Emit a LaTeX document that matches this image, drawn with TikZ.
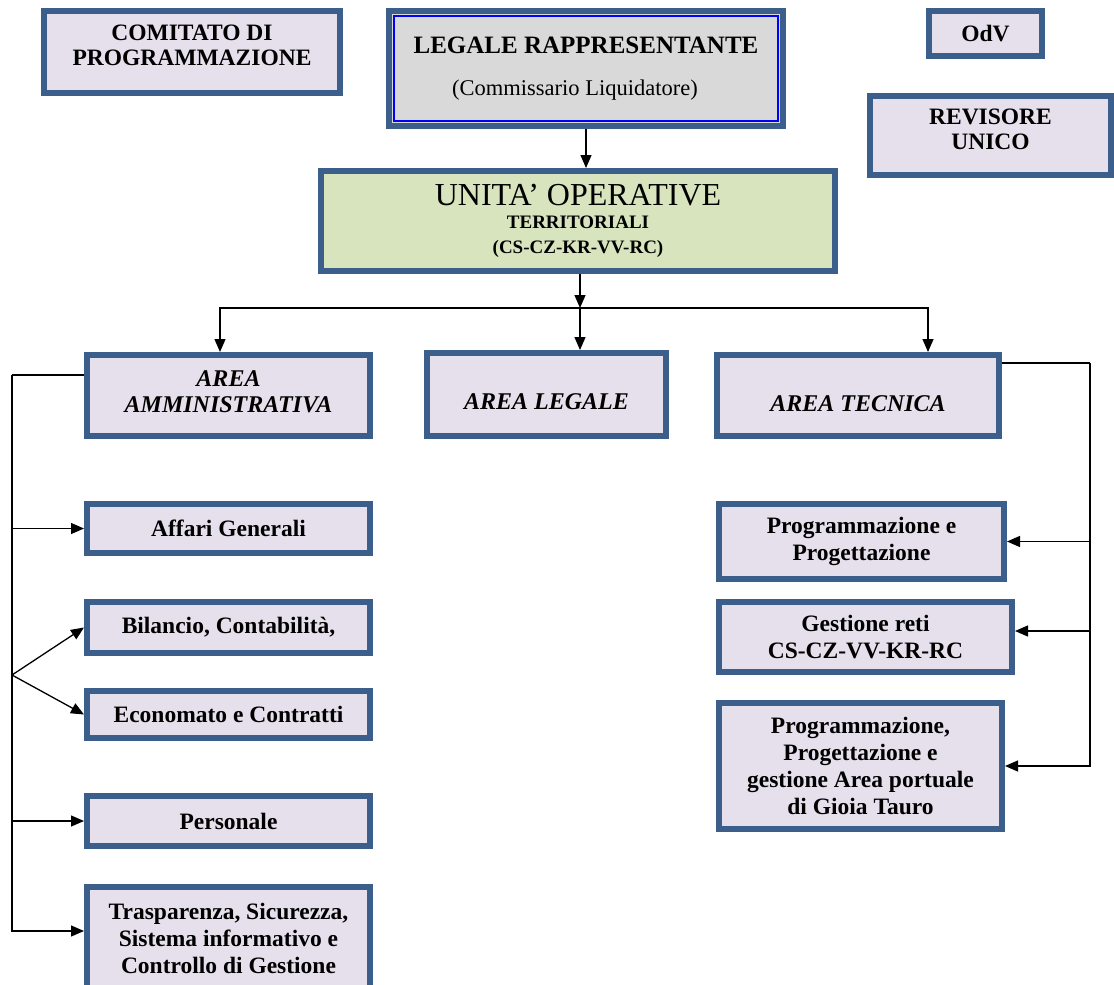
\documentclass[tikz,border=0pt]{standalone}
\usepackage{fontspec}
\setmainfont{Liberation Serif}
\usetikzlibrary{arrows.meta}
\definecolor{bordc}{RGB}{60,94,138}
\definecolor{lav}{RGB}{229,224,236}
\definecolor{legfill}{RGB}{217,217,217}
\definecolor{unifill}{RGB}{215,228,189}
\newcommand\bodyf{\fontsize{23.5}{27}\selectfont\bfseries}
\newcommand\areaf{\fontsize{24}{26}\selectfont\bfseries\itshape}
\begin{document}
\begin{tikzpicture}[x=1pt,y=-1pt,
  box/.style={draw=bordc, line width=6pt, fill=lav, outer sep=3pt, inner sep=0pt, align=center, font=\bodyf, text=black},
  sz/.style 2 args={minimum width=#1pt, minimum height=#2pt},
  arr/.style={draw=black, line width=1.3pt, -{Triangle[length=13pt,width=11pt]}},
  bus/.style={draw=black, line width=1.3pt}]
\useasboundingbox (0,0) rectangle (1114,985);
\begin{scope}
\clip (0,0) rectangle (1114,985);
% top row
\node[box, sz={296}{82}] (com) at (192,52) {COMITATO DI\\[-2pt]PROGRAMMAZIONE\\[-13pt]\mbox{}};
\node[box, fill=legfill, sz={394}{115}, font=\fontsize{25}{30}\selectfont\bfseries] (leg) at (586,68.5)
  {LEGALE RAPPRESENTANTE\\[12pt]{\mdseries\fontsize{22.5}{26}\selectfont (Commissario Liquidatore)\hspace*{22pt}}};
\draw[blue, line width=1.5pt] ([shift={(8pt,-8pt)}]leg.north west) rectangle ([shift={(-8pt,8pt)}]leg.south east);
\node[box, sz={113}{45}] (odv) at (985.5,33.5) {OdV};
\node[box, sz={241}{79}] (rev) at (990.5,135.5) {REVISORE\\[-2pt]UNICO\\[-15pt]\mbox{}};
\node[box, fill=unifill, sz={514}{100}] (uni) at (578,221)
  {{\mdseries\fontsize{32}{32}\selectfont UNITA’ OPERATIVE}\\[-4pt]
   {\fontsize{19}{22}\selectfont TERRITORIALI}\\[-2pt]
   {\fontsize{19}{22}\selectfont (CS-CZ-KR-VV-RC)}};
% areas
\node[box, sz={283}{81}, font=\areaf] (aam) at (228.5,395.5) {AREA\\AMMINISTRATIVA\\[-18pt]\mbox{}};
\node[box, sz={239}{83}, font=\areaf] (ale) at (546.5,394.5) {\raisebox{-15pt}[0pt][0pt]{AREA LEGALE}};
\node[box, sz={282}{81}, font=\areaf] (ate) at (858,395.5) {\raisebox{-16pt}[0pt][0pt]{AREA TECNICA}};
% left column
\node[box, sz={283}{49}] (aff) at (228.5,528.5) {Affari Generali};
\node[box, sz={283}{51}] (bil) at (228.5,627.5) {Bilancio, Contabilità,};
\node[box, sz={283}{47}] (eco) at (228.5,714.5) {Economato e Contratti};
\node[box, sz={283}{50}] (per) at (228.5,821) {Personale};
\node[box, sz={283}{106}] (tra) at (228.5,940) {Trasparenza, Sicurezza,\\Sistema informativo e\\Controllo di Gestione\\[-23pt]\mbox{}};
% right column
\node[box, sz={285}{75}] (pp) at (861.5,541.5) {Programmazione e\\Progettazione};
\node[box, sz={293}{70}] (gr) at (865.5,637) {Gestione reti\\CS-CZ-VV-KR-RC};
\node[box, sz={283}{126}] (pg) at (860.5,766) {Programmazione,\\Progettazione e\\gestione Area portuale\\di Gioia Tauro};
\end{scope}
% connectors
\draw[arr] (leg.south) -- (leg.south |- uni.north);
\coordinate (j) at (580,308);
\draw[arr] (j |- uni.south) -- (j);
\draw[arr] (j) -| ([xshift=-8.5pt]aam.north);
\draw[arr] (j) -| ([xshift=70pt]ate.north);
\draw[arr] (j) -- (j |- ale.north);
% left bus
\coordinate (lb) at (12,375);
\coordinate (fork) at (12,675);
\draw[bus] (lb -| aam.west) -- (lb);
\draw[arr] (lb) |- ([yshift=9pt]tra.west);
\draw[arr] (lb |- aff.west) -- (aff.west);
\draw[arr] (fork) -- (bil.west);
\draw[arr] (fork) -- (eco.west);
\draw[arr] (lb |- per.west) -- (per.west);
% right bus
\coordinate (rb) at (1090,363);
\draw[bus] (rb -| ate.east) -- (rb);
\draw[arr] (rb) |- (pg.east);
\draw[arr] (rb |- pp.east) -- (pp.east);
\draw[arr] ([yshift=6pt]gr.east -| rb) -- ([yshift=6pt]gr.east);
\end{tikzpicture}
\end{document}
